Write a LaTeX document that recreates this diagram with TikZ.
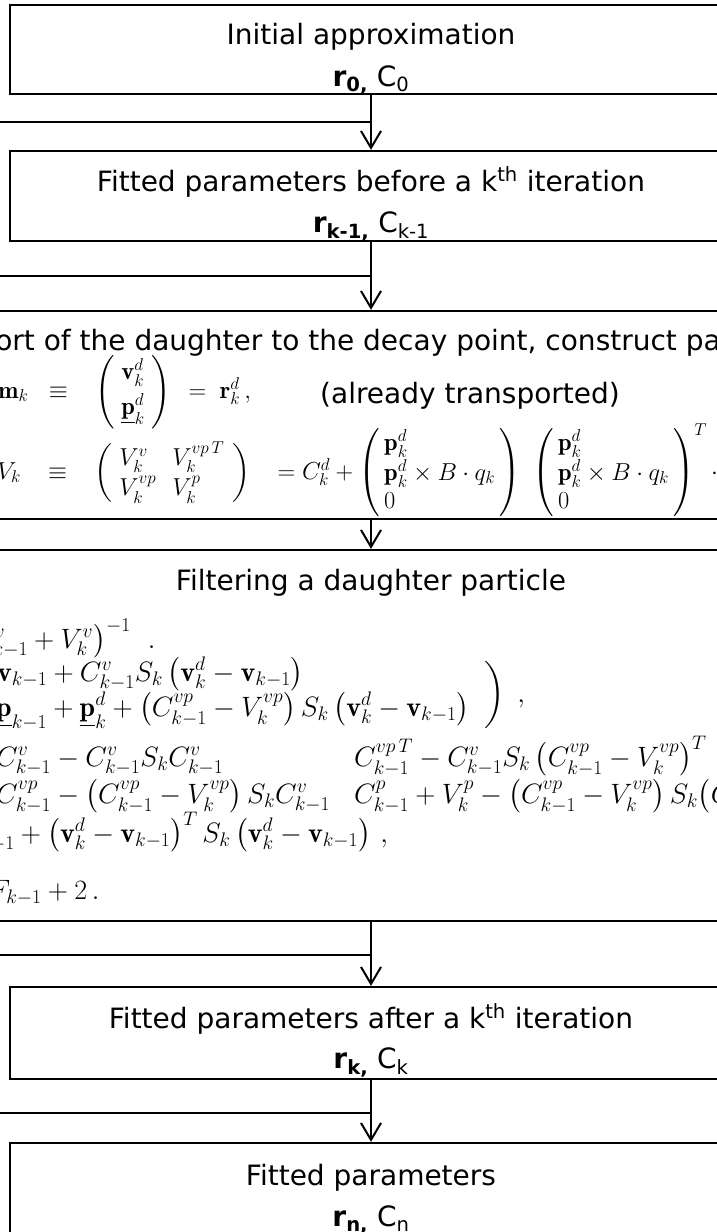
\RequirePackage{fix-cm}
\documentclass[tikz,border=0pt]{standalone}
\usepackage{amsmath,amssymb}
\usepackage{fontspec}
\newfontfamily\boxfont{DejaVu Sans}
\usetikzlibrary{arrows.meta,positioning}

\tikzset{
  stage/.style={draw, line width=2.2pt, inner sep=0pt},
  heading/.style={inner sep=0pt, anchor=base, font=\boxfont\fontsize{28}{32}\selectfont},
  measure/.style={inner sep=0pt, anchor=base west, font=\fontsize{24.5}{27}\selectfont},
  formula/.style={inner sep=0pt, anchor=base west, font=\fontsize{28}{30}\selectfont},
  flow/.style={line width=2.2pt, -{Straight Barb[length=17pt,width=20pt,line width=2pt]}},
  feed/.style={line width=2.2pt},
}

\begin{document}
\begin{tikzpicture}[x=1pt, y=-1pt]
  \useasboundingbox (0,0) rectangle (717,1232);
  \clip (0,0) rectangle (717,1232);

  % stages of the fit
  \node[stage, minimum width=722pt, minimum height=89pt] (init) at (371,49.5) {};
  \node[stage, minimum width=722pt, minimum height=90pt] (before) at (371,196) {};
  \node[stage, minimum width=822pt, minimum height=208pt] (transport) at (371,415) {};
  \node[stage, minimum width=822pt, minimum height=371pt] (filter) at (371,735.5) {};
  \node[stage, minimum width=722pt, minimum height=92pt] (after) at (371,1033) {};
  \node[stage, minimum width=722pt, minimum height=96pt] (final) at (371,1191) {};

  \node[heading] (init-name) at ([yshift=-41pt]init.north) {Initial approximation};
  \node[heading] (init-par) at ([yshift=-83pt]init.north) {\textbf{r}\textsubscript{\textbf{0,}} C\textsubscript{0}};
  \node[heading] (before-name) at ([yshift=-42pt]before.north) {Fitted parameters before a k\textsuperscript{th} iteration};
  \node[heading] (before-par) at ([yshift=-83pt]before.north) {\textbf{r}\textsubscript{\textbf{k-1,}} C\textsubscript{k-1}};
  \node[heading] (after-name) at ([yshift=-43pt]after.north) {Fitted parameters after a k\textsuperscript{th} iteration};
  \node[heading] (after-par) at ([yshift=-83pt]after.north) {\textbf{r}\textsubscript{\textbf{k,}} C\textsubscript{k}};
  \node[heading] (final-name) at ([yshift=-44pt]final.north) {Fitted parameters};
  \node[heading] (final-par) at ([yshift=-85pt]final.north) {\textbf{r}\textsubscript{\textbf{n,}} C\textsubscript{n}};

  % transport of the daughter
  \node[heading] (transport-name) at (358,350) {ort of the daughter to the decay point, construct pa};
  \node[measure] (meas) at (-2,398) {$\mathbf{m}_k \;\;\equiv\;\;\; \left(\begin{array}{@{\;}l@{\;}} \mathbf{v}^d_k \\[6pt] \underline{\mathbf{p}}^d_k \end{array}\right) \;\,=\; \mathbf{r}^d_k\,,$};
  \node[heading, anchor=base west] (transport-note) at (320,403) {(already transported)};
  \node[measure] (meas-cov) at (-3,479) {$V_k \;\;\;\equiv\;\;\; \left(\begin{array}{@{\;}l@{\hspace{16pt}}l@{\hspace{8pt}}} V^v_k & V^{vp\,T}_k \\[3pt] V^{vp}_k & V^p_k \end{array}\right) \;\;\;= C^d_k + \left(\begin{array}{@{\hspace{4pt}}l@{\hspace{4pt}}} \mathbf{p}^d_k \\[1pt] \mathbf{p}^d_k \times B\cdot q_k \\[1pt] 0 \end{array}\right) \hspace{8pt} \left(\begin{array}{@{\hspace{4pt}}l@{\hspace{4pt}}} \mathbf{p}^d_k \\[1pt] \mathbf{p}^d_k \times B\cdot q_k \\[1pt] 0 \end{array}\right)^{T} \cdot$};

  % filtering
  \node[heading] (filter-name) at (371,590) {Filtering a daughter particle};
  \node[formula] (gain) at (-40,648) {$\left(C^v_{k-1} + V^v_k\right)^{-1}\;\,.$};
  \node[formula] (state-v) at (-3,681) {$\mathbf{v}_{k-1} + C^v_{k-1} S_k \left(\mathbf{v}^d_k - \mathbf{v}_{k-1}\right)$};
  \node[formula] (state-p) at (-4,716) {$\underline{\mathbf{p}}_{k-1} + \underline{\mathbf{p}}^d_k + \left(C^{vp}_{k-1} - V^{vp}_k\right) S_k \left(\mathbf{v}^d_k - \mathbf{v}_{k-1}\right)$};
  \node[formula] (state-close) at (483,702) {$\left.\rule[-25pt]{0pt}{64pt}\right)\;,$};
  \node[formula] (cov-a) at (-4,766) {$C^v_{k-1} - C^v_{k-1} S_k C^v_{k-1}$};
  \node[formula] (cov-b) at (354,766) {$C^{vp\,T}_{k-1} - C^v_{k-1} S_k \left(C^{vp}_{k-1} - V^{vp}_k\right)^T$};
  \node[formula] (cov-c) at (-4,803) {$C^{vp}_{k-1} - \left(C^{vp}_{k-1} - V^{vp}_k\right) S_k C^v_{k-1}$};
  \node[formula] (cov-d) at (354,803) {$C^p_{k-1} + V^p_k - \left(C^{vp}_{k-1} - V^{vp}_k\right) S_k \bigl(C^{vp}_{k-1}$};
  \node[formula] (chi) at (-38,842) {$\chi^2_{k-1} + \left(\mathbf{v}^d_k - \mathbf{v}_{k-1}\right)^T S_k \left(\mathbf{v}^d_k - \mathbf{v}_{k-1}\right)\,,$};
  \node[formula] (ndf) at (-60,899) {$NDF_{k-1} + 2\,.$};

  % connectors
  \draw[flow] (init) -- (before);
  \draw[flow] (before) -- (transport);
  \draw[flow] (transport) -- (filter);
  \draw[flow] (filter) -- (after);
  \draw[flow] (after) -- (final);

  % returns from the left
  \coordinate (ret-a) at (-20,122);
  \coordinate (ret-b) at (-20,276);
  \coordinate (ret-c) at (-20,955);
  \coordinate (ret-d) at (-20,1113);
  \draw[feed] (ret-a) -- (ret-a -| init.south);
  \draw[feed] (ret-b) -- (ret-b -| before.south);
  \draw[feed] (ret-c) -- (ret-c -| filter.south);
  \draw[feed] (ret-d) -- (ret-d -| after.south);
\end{tikzpicture}
\end{document}
